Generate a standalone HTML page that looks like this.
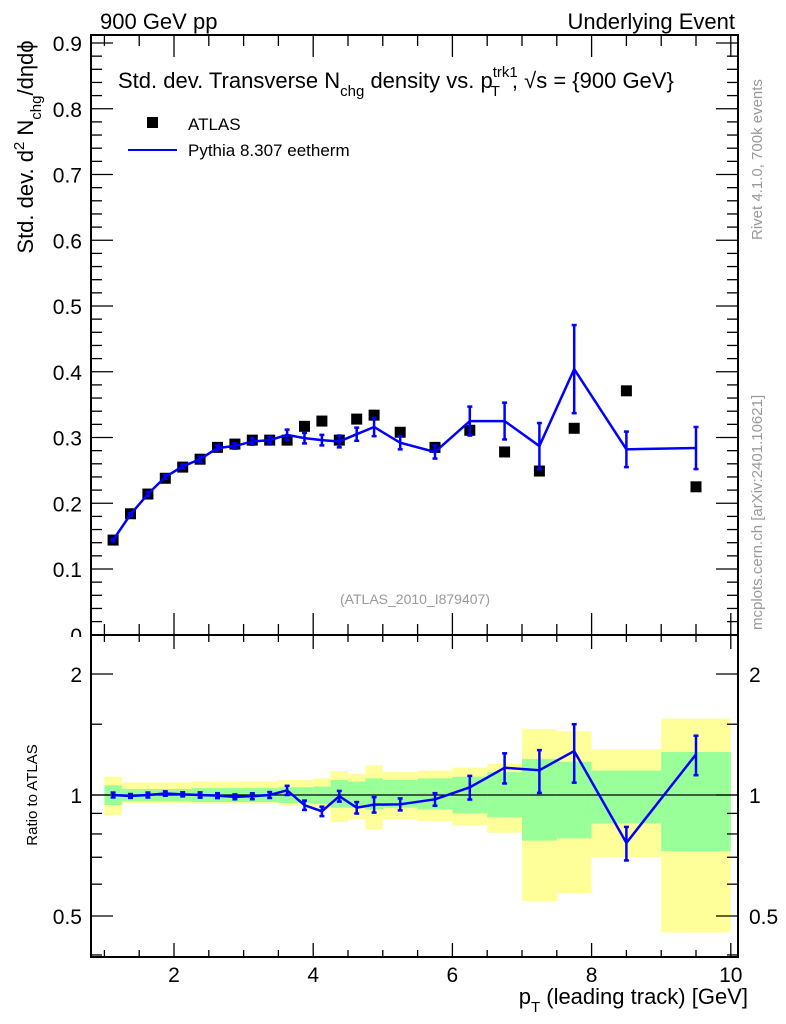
<!DOCTYPE html>
<html><head><meta charset="utf-8"><style>
body{margin:0;background:#fff}
svg{display:block;font-family:"Liberation Sans",sans-serif}
</style></head><body>
<svg id="chart" width="786" height="1024" viewBox="0 0 786 1024" xmlns="http://www.w3.org/2000/svg">
<g id="bands"></g>
<g id="marks"></g>
<g id="axes"></g>
<text x="100" y="29" font-size="22">900 GeV pp</text>
<text x="735" y="29" font-size="22" text-anchor="end">Underlying Event</text>
<text x="118" y="88" font-size="22">Std. dev. Transverse N<tspan font-size="15" dy="8">chg</tspan><tspan dy="-8"> density vs. p</tspan><tspan font-size="15" dy="-11" dx="0">trk1</tspan><tspan font-size="15" dx="-27" dy="19">T</tspan><tspan dy="-8" dx="12">, √s = {900 GeV}</tspan></text>
<rect x="147" y="117" width="11" height="11" fill="#000"/>
<text x="188" y="130" font-size="17">ATLAS</text>
<line x1="128" y1="150" x2="177" y2="150" stroke="#0000ff" stroke-width="2"/>
<text x="188" y="156" font-size="17">Pythia 8.307 eetherm</text>
<text x="415" y="604" font-size="14" fill="#999" text-anchor="middle">(ATLAS_2010_I879407)</text>
<text transform="translate(33,147) rotate(-90)" font-size="22" text-anchor="middle">Std. dev. d<tspan font-size="15" dy="-9">2</tspan><tspan dy="9"> N</tspan><tspan font-size="15" dy="8">chg</tspan><tspan dy="-8">/dηdϕ</tspan></text>
<text transform="translate(37,795) rotate(-90)" font-size="15" text-anchor="middle">Ratio to ATLAS</text>
<text x="748" y="1004" font-size="22" text-anchor="end">p<tspan font-size="15" dy="8">T</tspan><tspan dy="-8"> (leading track) [GeV]</tspan></text>
<text transform="translate(762,240) rotate(-90)" font-size="15" fill="#999">Rivet 4.1.0,  700k events</text>
<text transform="translate(762,630) rotate(-90)" font-size="15" fill="#999">mcplots.cern.ch [arXiv:2401.10621]</text>
</svg>
<script>
const binLo=[1,1.25,1.5,1.75,2,2.25,2.5,2.75,3,3.25,3.5,3.75,4,4.25,4.5,4.75,5,5.5,6,6.5,7,7.5,8,9];
const binHi=[1.25,1.5,1.75,2,2.25,2.5,2.75,3,3.25,3.5,3.75,4,4.25,4.5,4.75,5,5.5,6,6.5,7,7.5,8,9,10];
const dataY=[0.144,0.184,0.214,0.238,0.255,0.267,0.285,0.290,0.296,0.296,0.296,0.317,0.325,0.296,0.328,0.334,0.308,0.285,0.311,0.278,0.249,0.314,0.371,0.225];
const mcY=[0.144,0.183,0.214,0.240,0.256,0.267,0.284,0.287,0.294,0.296,0.304,0.299,0.296,0.294,0.305,0.316,0.292,0.278,0.325,0.325,0.287,0.404,0.282,0.284];
const mcErr=[0.002,0.002,0.003,0.003,0.003,0.004,0.004,0.004,0.005,0.005,0.008,0.008,0.008,0.009,0.01,0.014,0.01,0.01,0.022,0.028,0.035,0.067,0.027,0.032];
const totHi=[1.11,1.075,1.075,1.075,1.075,1.08,1.08,1.08,1.08,1.08,1.09,1.09,1.10,1.147,1.13,1.185,1.14,1.15,1.17,1.196,1.46,1.44,1.30,1.55];
const totLo=[0.89,0.955,0.955,0.955,0.955,0.95,0.95,0.95,0.95,0.95,0.94,0.94,0.92,0.857,0.87,0.82,0.87,0.86,0.84,0.806,0.545,0.57,0.70,0.455];
const statHi=[1.057,1.035,1.035,1.035,1.035,1.04,1.04,1.04,1.04,1.04,1.045,1.045,1.05,1.09,1.08,1.10,1.09,1.10,1.11,1.14,1.23,1.21,1.15,1.28];
const statLo=[0.944,0.965,0.965,0.965,0.965,0.96,0.96,0.96,0.96,0.96,0.955,0.955,0.95,0.93,0.93,0.92,0.93,0.92,0.90,0.88,0.77,0.78,0.85,0.725];
const yTicks=[0,0.1,0.2,0.3,0.4,0.5,0.6,0.7,0.8,0.9];
const xTicks=[2,4,6,8,10];
const rTicks=[0.5,1,2];

const NS="http://www.w3.org/2000/svg";
const L=91,R=738,T=35,M=635,B=957;
const X=v=>104.4+(v-1)*69.6;
const Y=v=>634.75-v*657.5;
const RY=v=>795-Math.log2(v)*121;
function mk(tag,at,parent){const e=document.createElementNS(NS,tag);for(const k in at)e.setAttribute(k,at[k]);parent.appendChild(e);return e;}
const bands=document.getElementById('bands'),marks=document.getElementById('marks'),axes=document.getElementById('axes');
const cx=i=>(binLo[i]+binHi[i])/2;

for(let i=0;i<binLo.length;i++){
  let e=mk('rect',{x:X(binLo[i]),y:RY(totHi[i]),width:X(binHi[i])-X(binLo[i]),height:RY(totLo[i])-RY(totHi[i]),fill:'#ffff99'},bands);
  
  
}
for(let i=0;i<binLo.length;i++){
  let e=mk('rect',{x:X(binLo[i]),y:RY(statHi[i]),width:X(binHi[i])-X(binLo[i]),height:RY(statLo[i])-RY(statHi[i]),fill:'#99ff99'},bands);
  
  
}
let one=mk('line',{x1:L,x2:R,y1:RY(1),y2:RY(1),stroke:'#000','stroke-width':1.3},bands);



for(let i=0;i<dataY.length;i++){
  let e=mk('rect',{x:X(cx(i))-5.5,y:Y(dataY[i])-5.5,width:11,height:11,fill:'#000'},marks);
  
  
}
let pts=mcY.map((v,i)=>X(cx(i))+','+Y(v)).join(' ');
let pl=mk('polyline',{points:pts,fill:'none',stroke:'#0000ff','stroke-width':2.5},marks);


let rpts=mcY.map((v,i)=>X(cx(i))+','+RY(v/dataY[i])).join(' ');
let rl=mk('polyline',{points:rpts,fill:'none',stroke:'#0000ff','stroke-width':2.5},marks);


function errbar(x,y1,y2,name){
  const g=mk('g',{stroke:'#0000ff','stroke-width':2.5},marks);
  
  
  mk('line',{x1:x,x2:x,y1:y1,y2:y2},g);
  mk('line',{x1:x-2.5,x2:x+2.5,y1:y1,y2:y1},g);
  mk('line',{x1:x-2.5,x2:x+2.5,y1:y2,y2:y2},g);
}
for(let i=0;i<mcY.length;i++){
  errbar(X(cx(i)),Y(mcY[i]+mcErr[i]),Y(mcY[i]-mcErr[i]),'pythia-error-bar');
  errbar(X(cx(i)),RY((mcY[i]+mcErr[i])/dataY[i]),RY((mcY[i]-mcErr[i])/dataY[i]),'pythia-ratio-error-bar');
}

function tick(x1,y1,x2,y2){mk('line',{x1,y1,x2,y2,stroke:'#000','stroke-width':1.3},axes);}
function label(x,y,t,anchor,size,name){
  const e=mk('text',{x,y,'text-anchor':anchor,'font-size':size},axes);e.textContent=t;
  
  
  return e;
}
yTicks.forEach(v=>label(L-9,Y(v)+8,v===0?'0':v.toFixed(1),'end',21,'y-tick-label'));
// cover lower part of "0" label like the reference
let cov=mk('rect',{x:40,y:M+2,width:50,height:20,fill:'#fff'},axes);


for(const [y1,y2,n] of [[T,M,'main-frame'],[M,B,'ratio-frame']]){
  let f=mk('rect',{x:L,y:y1,width:R-L,height:y2-y1,fill:'none',stroke:'#000','stroke-width':2},axes);
  
  
}
for(let v=0;v<=0.905;v+=0.02){
  const major=Math.abs(v*10-Math.round(v*10))<1e-6;const len=major?22:11;const y=Y(v);
  if(y<T-0.5)continue;
  tick(L,y,L+len,y);tick(R,y,R-len,y);
}
for(let v=1;v<=10.01;v+=0.5){
  const major=Math.abs(v/2-Math.round(v/2))<1e-6;const x=X(v);
  const l=major?22:11,ls=major?14:7;
  tick(x,M,x,M-l);tick(x,T,x,T+l);
  tick(x,B,x,B-ls);tick(x,M,x,M+ls);
}
xTicks.forEach(v=>label(X(v),982,String(v),'middle',21,'x-tick-label'));
[0.4,0.5,0.6,0.7,0.8,0.9,1,1.5,2].forEach(v=>{
  const y=RY(v);if(y>B||y<M)return;const major=rTicks.includes(v);const len=major?22:11;
  tick(L,y,L+len,y);tick(R,y,R-len,y);
});
rTicks.forEach(v=>{label(L-9,RY(v)+8,String(v),'end',21,'ratio-tick-label');label(R+11,RY(v)+8,String(v),'start',21,'ratio-tick-label-right');});
</script>
</body></html>
